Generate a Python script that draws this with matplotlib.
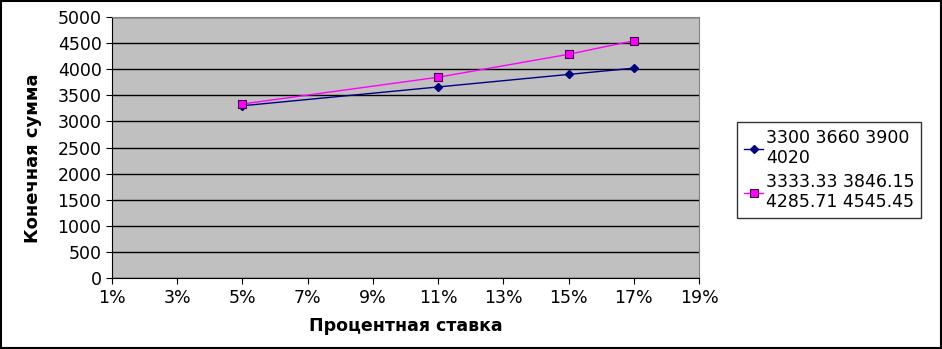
import matplotlib
matplotlib.use("Agg")
import matplotlib.pyplot as plt
from matplotlib.ticker import FuncFormatter

rates = [0.05, 0.11, 0.15, 0.17]
series1 = [3300, 3660, 3900, 4020]
series2 = [3333.33, 3846.15, 4285.71, 4545.45]
label1 = "3300 3660 3900\n4020"
label2 = "3333.33 3846.15\n4285.71 4545.45"
x_ticks = [0.01, 0.03, 0.05, 0.07, 0.09, 0.11, 0.13, 0.15, 0.17, 0.19]
y_ticks = list(range(0, 5001, 500))

fig = plt.figure(figsize=(9.42, 3.49), dpi=100)
fig.patch.set_facecolor("white")
ax = fig.add_axes([0.1189, 0.2034, 0.6232, 0.7479])
ax.set_facecolor("#C0C0C0")

ax.plot(rates, series1, color="#000080", lw=1, marker="D", ms=4,
        mfc="#000080", mec="#000080", label=label1, zorder=3)
ax.plot(rates, series2, color="#FF00FF", lw=1, marker="s", ms=6,
        mfc="#FF00FF", mec="#400040", mew=0.8, label=label2, zorder=3)

ax.set_xlim(0.01, 0.19)
ax.set_ylim(0, 5000)
ax.set_xticks(x_ticks)
ax.set_yticks(y_ticks)
ax.xaxis.set_major_formatter(FuncFormatter(lambda v, p: f"{round(v*100)}%"))
ax.yaxis.grid(True, color="black", lw=1)
ax.set_axisbelow(True)
ax.tick_params(axis="both", direction="out", length=4, labelsize=12.5, colors="black")
ax.tick_params(axis="x", pad=4)
for s in ["top", "right"]:
    ax.spines[s].set_color("#808080")
for s in ["left", "bottom"]:
    ax.spines[s].set_color("black")

ax.set_xlabel("Процентная ставка", fontsize=12.5, fontweight="bold", labelpad=7)
ax.set_ylabel("Конечная сумма", fontsize=13, fontweight="bold")
ax.yaxis.set_label_coords(-0.12, 0.46)

leg = ax.legend(loc="center left", bbox_to_anchor=(1.05, 0.414), fontsize=12.5,
                frameon=True, fancybox=False, edgecolor="black", handlelength=1.1,
                handletextpad=0.15, borderpad=0.4, labelspacing=0.3)
leg.get_frame().set_linewidth(1)

fig.add_artist(plt.Rectangle((0.001, 0.002), 0.998, 0.996, transform=fig.transFigure,
                             fill=False, edgecolor="black", lw=1.5))

fig.savefig("out.png", dpi=100)
